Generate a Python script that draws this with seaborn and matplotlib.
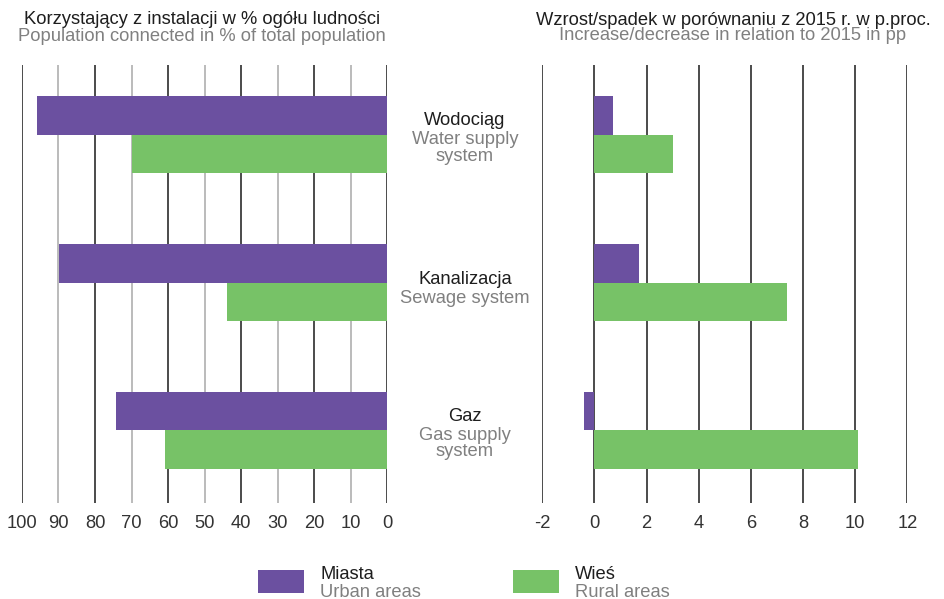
import pandas as pd
import matplotlib.pyplot as plt
from matplotlib.patches import Rectangle
import seaborn as sns

# data
categories = ['Wodociąg', 'Kanalizacja', 'Gaz']
categories_en = ['Water supply\nsystem', 'Sewage system', 'Gas supply\nsystem']
areas = ['Miasta', 'Wieś']
areas_en = ['Urban areas', 'Rural areas']
share_urban = [96.0, 89.8, 74.2]
share_rural = [70.0, 43.9, 60.8]
change_urban = [0.7, 1.7, -0.4]
change_rural = [3.0, 7.4, 10.1]
left_ticks = list(range(0, 101, 10))
right_ticks = list(range(-2, 13, 2))

PURPLE = '#6b50a0'
GREEN = '#77c267'
DARK = '#1e1e1e'
GREY = '#808080'
FS = 13.2

sns.set_theme(style='white')
plt.rcParams['font.family'] = ['Liberation Sans', 'DejaVu Sans']
plt.rcParams['axes.unicode_minus'] = False


def long_table(urban, rural):
    return pd.DataFrame({
        'category': categories * 2,
        'area': [areas[0]] * len(categories) + [areas[1]] * len(categories),
        'value': list(urban) + list(rural),
    })


df_share = long_table(share_urban, share_rural)
df_change = long_table(change_urban, change_rural)

fig = plt.figure(figsize=(9.44, 5.99), dpi=100)
ax1 = fig.add_axes([0.0233, 0.1603, 0.3867, 0.7312])
ax2 = fig.add_axes([0.5745, 0.1603, 0.3867, 0.7312])

for ax, df in [(ax1, df_share), (ax2, df_change)]:
    sns.barplot(data=df, y='category', x='value', hue='area', orient='y',
                palette=[PURPLE, GREEN], saturation=1, width=0.52,
                errorbar=None, legend=False, ax=ax, zorder=3, linewidth=0)
    ax.set_ylim(2.49, -0.47)
    ax.set_xlabel('')
    ax.set_ylabel('')
    ax.set_yticks([])
    for s in ax.spines.values():
        s.set_visible(False)
    ax.tick_params(axis='x', length=0, pad=9, labelsize=FS, labelcolor='#333333')

# left panel: reversed axis, alternating gridlines
ax1.set_xlim(100, 0)
ax1.set_xticks(left_ticks)
for t in left_ticks:
    col = '#1a1a1a' if t % 20 == 0 else '#a8a8a8'
    ax1.axvline(t, color=col, lw=1.1, zorder=1)

ax2.set_xlim(-2, 12)
ax2.set_xticks(right_ticks)
for t in right_ticks:
    ax2.axvline(t, color='#1a1a1a', lw=1.1, zorder=1)

# panel titles
fig.text(202 / 944, 1 - 24 / 599, 'Korzystający z instalacji w % ogółu ludności',
         ha='center', va='baseline', fontsize=FS, color=DARK)
fig.text(202 / 944, 1 - 40.7 / 599, 'Population connected in % of total population',
         ha='center', va='baseline', fontsize=FS, color=GREY)
fig.text(733 / 944, 1 - 25 / 599, 'Wzrost/spadek w porównaniu z 2015 r. w p.proc.',
         ha='center', va='baseline', fontsize=FS, color=DARK)
fig.text(733 / 944, 1 - 40.5 / 599, 'Increase/decrease in relation to 2015 in pp',
         ha='center', va='baseline', fontsize=FS, color=GREY)

# category labels in the gap between panels
xmid = 465 / 944
for i, (pl, en) in enumerate(zip(categories, categories_en)):
    lines = en.split('\n')
    b0 = 1 - 10.5 * (len(lines) - 1)
    ax1.annotate(pl, xy=(xmid, i), xycoords=('figure fraction', 'data'),
                 xytext=(0, -b0), textcoords='offset pixels',
                 ha='center', va='baseline', fontsize=FS, color=DARK,
                 annotation_clip=False)
    for k, ln in enumerate(lines):
        ax1.annotate(ln, xy=(xmid, i), xycoords=('figure fraction', 'data'),
                     xytext=(0, -(b0 + 19 + 16.5 * k)), textcoords='offset pixels',
                     ha='center', va='baseline', fontsize=FS, color=GREY,
                     annotation_clip=False)

# legend drawn by hand: two-colour labels
for x0, col, pl, en in [(258, PURPLE, areas[0], areas_en[0]),
                        (513, GREEN, areas[1], areas_en[1])]:
    fig.add_artist(Rectangle((x0 / 944, 1 - 592.7 / 599), 46 / 944, 22.7 / 599,
                             transform=fig.transFigure, color=col, lw=0))
    fig.text((x0 + 62) / 944, 1 - 579.3 / 599, pl, ha='left', va='baseline',
             fontsize=FS, color=DARK)
    fig.text((x0 + 62) / 944, 1 - 596.7 / 599, en, ha='left', va='baseline',
             fontsize=FS, color=GREY)

fig.savefig('out.png', dpi=100)
